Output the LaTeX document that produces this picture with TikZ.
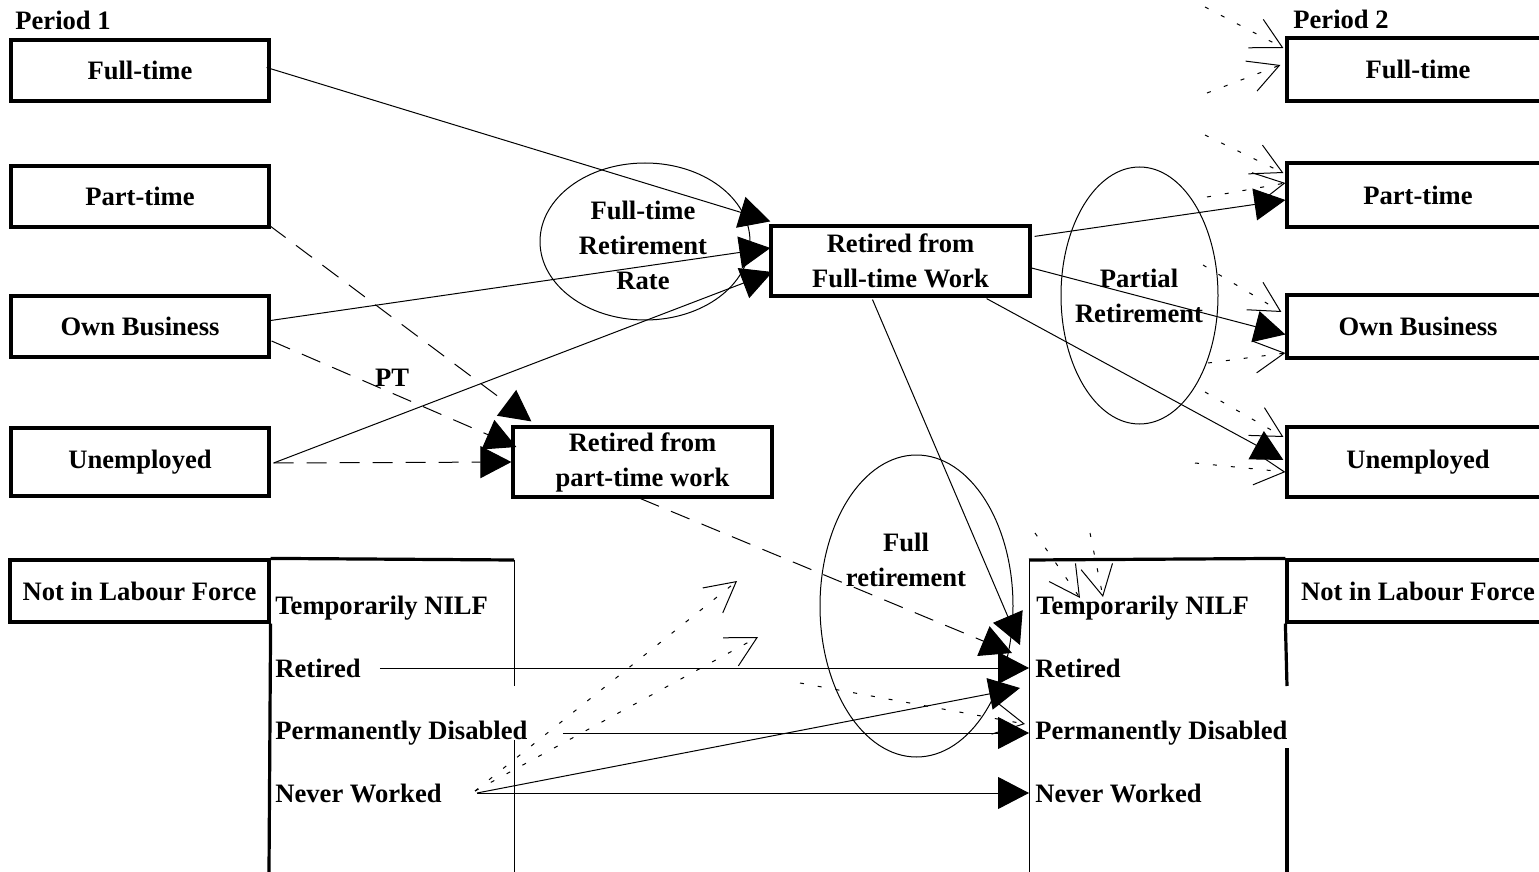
\documentclass[tikz,border=0pt]{standalone}
\usepackage{fontspec}
\setmainfont{Liberation Serif}
\usetikzlibrary{arrows.meta,calc,shapes.geometric}
\begin{document}
\begin{tikzpicture}[x=0.5pt,y=-0.5pt,
  font=\fontsize{13.3pt}{17.5pt}\selectfont\bfseries,
  box/.style={draw,line width=1.6pt,inner sep=0pt,align=center,minimum width=129pt,minimum height=31pt},
  rbox/.style={box,minimum width=131pt},
  item/.style={inner sep=0pt,anchor=base west},
  lbl/.style={inner sep=0pt,align=center},
  oval/.style={draw,ellipse,line width=0.5pt,inner sep=0pt},
  ln/.style={line width=0.5pt},
  col/.style={line width=1.6pt},
  fa/.style={ln,-{Triangle[length=15.5pt,width=16pt]}},
  va/.style={ln,dash pattern=on 2pt off 7pt,-{Straight Barb[length=15pt,width=16pt]}},
  dsh/.style={dash pattern=on 10pt off 6.5pt},
]
\useasboundingbox (0,0) rectangle (1539,872);
\clip (0,0) rectangle (1539,872);

% ellipses
\node[oval,minimum width=105pt,minimum height=78.5pt] (e1) at (645,241.5) {};
\node[oval,minimum width=78.5pt,minimum height=128.5pt] (e2) at (1139.5,295.5) {};
\node[oval,minimum width=96.5pt,minimum height=151pt] (e3) at (916.5,606) {};
\node[lbl] (t1) at (643,245) {Full-time\\Retirement\\Rate};
\node[lbl] (t2) at (1139,296) {Partial\\Retirement};
\node[lbl] (t3) at (906,560) {Full\\retirement};
\node[lbl] (pt) at (392,378) {PT};

% period labels
\node[item] (p1) at (15,30) {Period 1};
\node[item] (p2) at (1293,29) {Period 2};

% left boxes
\node[box,minimum height=30.5pt] (ftL) at (140,70.5) {Full-time};
\node[box,minimum height=30.5pt] (ptL) at (140,196.5) {Part-time};
\node[box,minimum height=30.5pt] (obL) at (140,326.5) {Own Business};
\node[box,minimum height=34pt] (unL) at (140,462) {Unemployed};
\node[box,minimum width=129.5pt,minimum height=31pt] (nilfL) at (139.5,591) {Not in Labour Force};

% right boxes
\node[rbox,minimum height=31.5pt] (ftR) at (1418,69.5) {Full-time};
\node[rbox,minimum height=32pt] (ptR) at (1418,195) {Part-time};
\node[rbox,minimum height=31.5pt] (obR) at (1418,326.5) {Own Business};
\node[rbox,minimum height=35pt] (unR) at (1418,462) {Unemployed};
\node[rbox,minimum height=31pt] (nilfR) at (1418,591) {Not in Labour Force};

% middle boxes
\node[box,minimum width=129.5pt,minimum height=35pt] (rft) at (900.5,261) {Retired from\\Full-time Work};
\node[box,minimum width=129.5pt,minimum height=35pt] (rpt) at (642.5,462) {Retired from\\part-time work};

% NILF columns
\draw[col] (nilfL.north east) -- (514,560);
\draw[col] (nilfL.south east) -- (269,872);
\draw[ln] (514,560) -- (514,686);
\draw[ln] (514,740) -- (514,872);
\draw[ln] (1029,560) -- (1029,872);
\draw[col] (1029,560) -- (nilfR.north west);
\draw[col] (nilfR.south west) -- (1287,686);
\draw[col] (1287,748) -- (1287,872);

\node[item] (tnL) at (275,614) {Temporarily NILF};
\node[item] (rtL) at (275,677) {Retired};
\node[item] (pdL) at (275,739) {Permanently Disabled};
\node[item] (nwL) at (275,802) {Never Worked};
\node[item] (tnR) at (1036,614) {Temporarily NILF};
\node[item] (rtR) at (1035,677) {Retired};
\node[item] (pdR) at (1035,739) {Permanently Disabled};
\node[item] (nwR) at (1035,802) {Never Worked};

% free ends of dotted arrows
\coordinate (dv1) at (737,581);
\coordinate (dv2) at (758,637);
\coordinate (dv3) at (800,683);
\coordinate (dv4) at (1035,533);
\coordinate (dv5) at (1090,533);
\coordinate (dr1) at (1205,7);
\coordinate (dr2) at (1207,93);
\coordinate (dr3) at (1205,135);
\coordinate (dr4) at (1207,197);
\coordinate (dr5) at (1203,265);
\coordinate (dr6) at (1208,363);
\coordinate (dr7) at (1205,392);
\coordinate (dr8) at (1195,463);

% into Retired from Full-time Work
\draw[fa] ($(ftL.east)+(-4,-3)$) -- ($(rft.north west)+(1,-3)$);
\draw[fa] ($(obL.east)+(0,-6)$) -- ($(rft.west)+(1,-13)$);
\draw[fa] ($(unL.east)+(3,1)$) -- ($(rft.west)+(3,11)$);

% into Retired from part-time work
\draw[fa,dsh] ($(ptL.south east)+(-1,-3)$) -- ($(rpt.north west)+(20,-4)$);
\draw[fa,dsh] ($(obL.east)+(1,14.5)$) -- ($(rpt.west)+(5,-15)$);
\draw[fa,dsh] ($(unL.east)+(3,1)$) -- (rpt.west);

% to period 2 NILF
\draw[fa,dsh] ($(rpt.south)+(-2,0)$) -- ($(rtR.base west)+(-23,-24)$);
\draw[fa] ($(rft.south)+(-28,2)$) -- ($(rtR.base west)+(-15,-32)$);
\draw[fa] ($(rtL.base east)+(19,-9)$) -- ($(rtR.base west)+(-6,-9)$);
\draw[fa] ($(pdL.base east)+(35,-6)$) -- ($(pdR.base west)+(-6,-6)$);
\draw[fa] ($(nwL.base east)+(35,-9)$) -- ($(nwR.base west)+(-6,-9)$);
\draw[fa] ($(nwL.base east)+(35,-9)$) -- ($(rtR.base west)+(-15,11)$);

% dotted open arrows
\draw[va] ($(nwL.base east)+(33,-11)$) -- (dv1);
\draw[va] ($(nwL.base east)+(33,-11)$) -- (dv2);
\draw[va] (dv3) -- ($(pdR.base west)+(-10,-15)$);
\draw[va] (dv4) -- ($(tnR.base west)+(44,-16)$);
\draw[va] (dv5) -- ($(tnR.base west)+(67,-17)$);
\draw[va] (dr1) -- ($(ftR.west)+(-2,-21.5)$);
\draw[va] (dr2) -- ($(ftR.west)+(-5,-4.5)$);
\draw[va] (dr3) -- ($(ptR.west)+(-2,-22)$);
\draw[va] (dr4) -- ($(ptR.west)+(0,-12)$);
\draw[va] (dr5) -- ($(obR.west)+(-4,-14.5)$);
\draw[va] (dr6) -- ($(obR.west)+(0,26.5)$);
\draw[va] (dr7) -- ($(unR.west)+(-2,-25)$);
\draw[va] (dr8) -- ($(unR.west)+(0,10)$);

% partial retirement
\draw[fa] ($(rft.north east)+(3,12)$) -- ($(ptR.west)+(0,5)$);
\draw[fa] ($(rft.east)+(0,7)$) -- ($(obR.west)+(0,8)$);
\draw[fa] ($(rft.south east)+(-45,1)$) -- ($(unR.west)+(-2,-2)$);
\end{tikzpicture}
\end{document}
